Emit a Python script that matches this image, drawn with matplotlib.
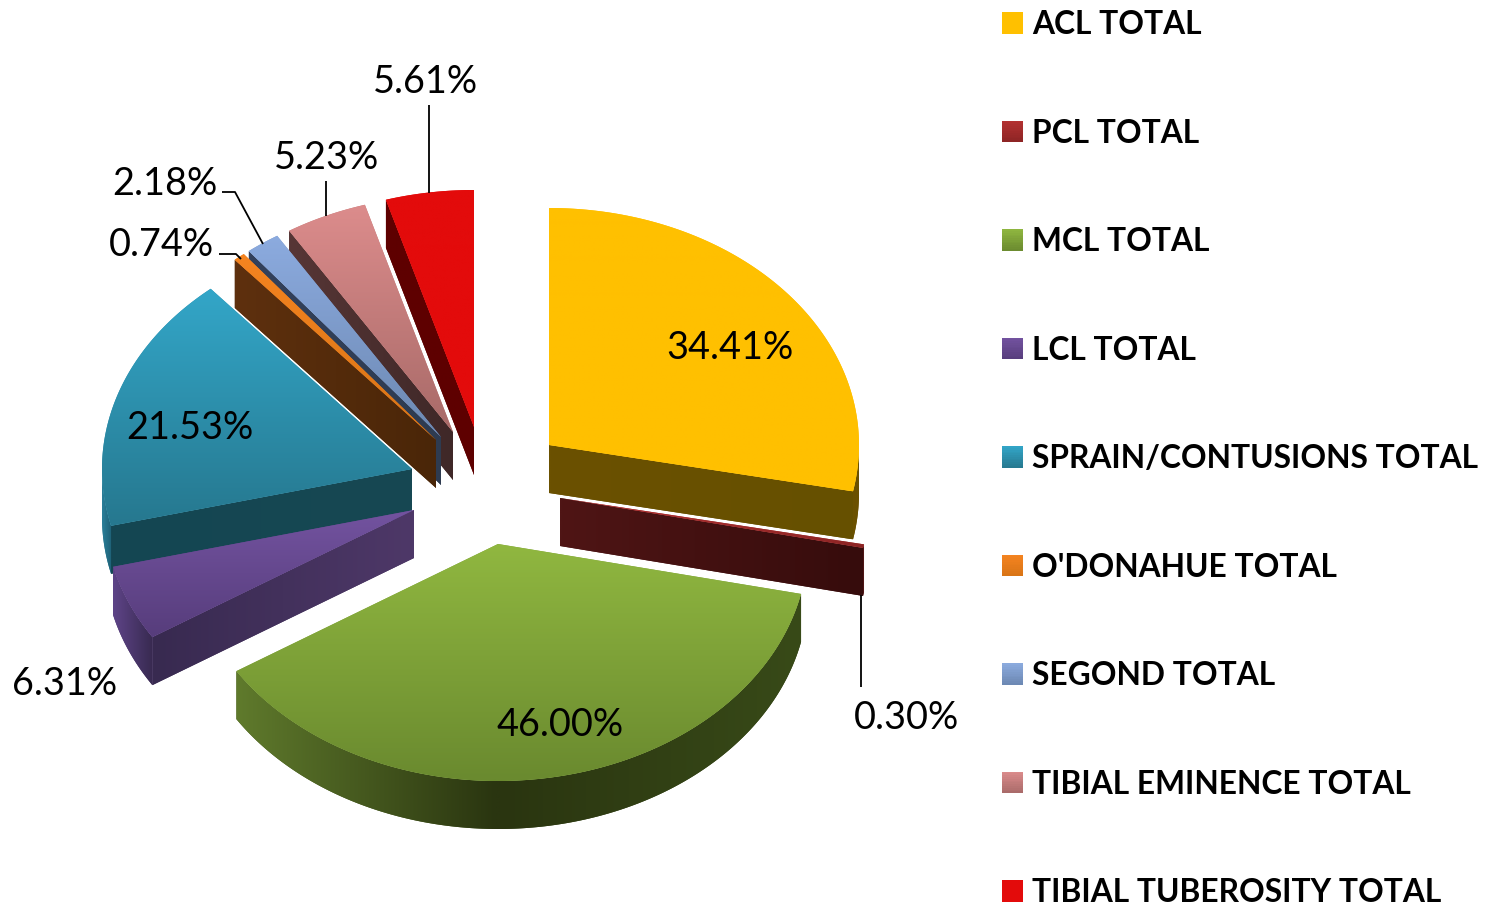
import numpy as np
import matplotlib
matplotlib.use("Agg")
import matplotlib.pyplot as plt
from matplotlib.colors import to_rgb
from matplotlib.patches import Polygon, Patch, Rectangle
from matplotlib.legend_handler import HandlerBase

# ---- data ----
categories = ["ACL TOTAL", "PCL TOTAL", "MCL TOTAL", "LCL TOTAL", "SPRAIN/CONTUSIONS TOTAL",
              "O'DONAHUE TOTAL", "SEGOND TOTAL", "TIBIAL EMINENCE TOTAL", "TIBIAL TUBEROSITY TOTAL"]
values = [34.41, 0.30, 46.00, 6.31, 21.53, 0.74, 2.18, 5.23, 5.61]

# ---- layout (pixel coordinates of the figure) ----
W, H = 1496, 909
RX, RY, DEPTH = 310, 237, 48
apex_x = [549, 560, 498, 414, 412, 436, 441, 453, 474]
apex_y = [445, 498, 544, 510, 469, 440, 437, 432, 427]
label_x = [730, 907, 560, 65, 190, 161, 165, 327, 425]
label_y = [348, 718, 725, 684, 428, 245, 184, 158, 82]
leaders = {1: [(861, 595), (861, 687)],
           5: [(219, 254), (236, 254), (241, 259)],
           6: [(222, 192), (235, 192), (263, 244)],
           7: [(326, 181), (326, 216)],
           8: [(429, 105), (429, 193)]}

# ---- styles ----
top_col = [("#FFC000", "#FFC000"), ("#B53232", "#8C2424"), ("#90B740", "#6A8A2F"),
           ("#7353A0", "#573D7C"), ("#33A6C8", "#26788F"), ("#F58420", "#D87416"),
           ("#8CABDF", "#6C88B2"), ("#DC8C8C", "#A86A68"), ("#E30B0B", "#E30B0B")]
wall_col = [("#6B5100", "#665000"), ("#4F1515", "#360C0C"), ("#2A3510", "#2A3510"),
            ("#382A50", "#4E3868"), ("#144652", "#174853"), ("#5E300E", "#4A2608"),
            ("#33415C", "#2E3B50"), ("#573636", "#3F2828"), ("#5E0000", "#5E0000")]
rim_col = [("#6B5100", "#6B5100"), ("#4F1515", "#4F1515"), ("#5F7A2C", "#2A3510"),
           ("#5E4488", "#382A50"), ("#2A7F9A", "#1E5F74"), ("#5E300E", "#5E300E"),
           ("#33415C", "#33415C"), ("#573636", "#573636"), ("#5E0000", "#5E0000")]
legend_col = top_col
draw_order = [8, 7, 6, 5, 4, 3, 0, 1, 2]

plt.rcParams["font.family"] = ["Lato", "DejaVu Sans"]
fig = plt.figure(figsize=(W / 100, H / 100), dpi=100)
ax = fig.add_axes([0, 0, 1, 1])
ax.axis("off")


def grad_poly(pts, c1, c2, horizontal, z, edge=None):
    pts = np.asarray(pts)
    x0, y0 = pts.min(axis=0)
    x1, y1 = pts.max(axis=0)
    t = np.linspace(0, 1, 64)[:, None]
    ramp = (1 - t) * np.array(to_rgb(c1)) + t * np.array(to_rgb(c2))
    img = ramp[None, :, :] if horizontal else ramp[:, None, :]
    # antialiased base under the clipped gradient keeps the outline smooth
    base = Polygon(pts, closed=True, fc=np.mean([to_rgb(c1), to_rgb(c2)], axis=0),
                   ec=edge if edge else "none", lw=0.7 if edge else 0, zorder=z)
    ax.add_patch(base)
    im = ax.imshow(img, extent=(x0, x1, y1, y0), origin="upper", aspect="auto",
                   interpolation="bilinear", zorder=z + 0.1)
    im.set_clip_path(Polygon(pts, closed=True, transform=ax.transData))


def arc(cx, cy, t1, t2, dz=0):
    th = np.radians(np.linspace(t1, t2, max(int(abs(t2 - t1) * 2), 2)))
    return np.c_[cx + RX * np.sin(th), cy - RY * np.cos(th) + dz]


total = sum(values)
edges = np.concatenate([[0], np.cumsum(values)]) / total * 360
z = 2
for i in draw_order:
    cx, cy = apex_x[i], apex_y[i]
    t1, t2 = edges[i], edges[i + 1]
    # radial walls
    for t, show in ((t1, 180 < t1 < 360), (t2, 0 < t2 < 180)):
        if show:
            p = arc(cx, cy, t, t)[0]
            quad = [(cx, cy), tuple(p), (p[0], p[1] + DEPTH), (cx, cy + DEPTH)]
            c = wall_col[i]
            grad_poly(quad, c[0], c[1], True, z)
            z += 1
    # outer rim (front half only)
    r1, r2 = max(t1, 90), min(t2, 270)
    if r2 > r1:
        up = arc(cx, cy, r1, r2)
        dn = arc(cx, cy, r1, r2, DEPTH)
        c = rim_col[i]
        # left-to-right gradient: darkest around the middle of the big slice
        if i == 2:
            mid = 180
            grad_poly(np.vstack([arc(cx, cy, mid, r2), arc(cx, cy, mid, r2, DEPTH)[::-1]]),
                      c[0], c[1], True, z)
            z += 1
            grad_poly(np.vstack([arc(cx, cy, r1, mid), arc(cx, cy, r1, mid, DEPTH)[::-1]]),
                      "#2A3510", "#384A18", True, z)
        else:
            grad_poly(np.vstack([up, dn[::-1]]), c[0], c[1], True, z)
        z += 1
    # top face
    top = np.vstack([[(cx, cy)], arc(cx, cy, t1, t2)])
    grad_poly(top, top_col[i][0], top_col[i][1], False, z)
    z += 1

# leader lines
for i, pts in leaders.items():
    xs, ys = zip(*pts)
    ax.plot(xs, ys, color="black", lw=1.3, zorder=200, solid_capstyle="butt")

# data labels
for i, v in enumerate(values):
    ax.text(label_x[i], label_y[i], f"{v:.2f}%", ha="center", va="center",
            fontsize=27.3, color="black", zorder=210)


# legend with gradient swatches
class GradHandler(HandlerBase):
    def create_artists(self, legend, orig, xd, yd, w, h, fs, trans):
        c1, c2 = orig.grad
        out = []
        n = 12
        for k in range(n):
            f = (k + 0.5) / n
            col = (1 - f) * np.array(to_rgb(c1)) + f * np.array(to_rgb(c2))
            out.append(Rectangle((-xd, -yd + h * (1 - (k + 1) / n)), w, h / n, fc=col, ec="none",
                                 antialiased=False, transform=trans))
        return out


handles = []
for c in legend_col:
    p = Patch(label="")
    p.grad = c
    handles.append(p)
FS = 22.9
leg = ax.legend(handles, categories, handler_map={Patch: GradHandler()},
                loc="upper left", bbox_to_anchor=(1002, 10), bbox_transform=ax.transData,
                frameon=False, prop={"weight": "bold", "size": FS, "family": "Lato"},
                borderaxespad=0, borderpad=0, handlelength=21 * 0.72 / FS, handleheight=21 * 0.72 / FS,
                handletextpad=9 * 0.72 / FS, labelspacing=2.5)
leg.set_zorder(220)

ax.set_xlim(0, W)
ax.set_ylim(H, 0)
ax.set_aspect("auto")
fig.savefig("out.png", dpi=100, facecolor="white")
